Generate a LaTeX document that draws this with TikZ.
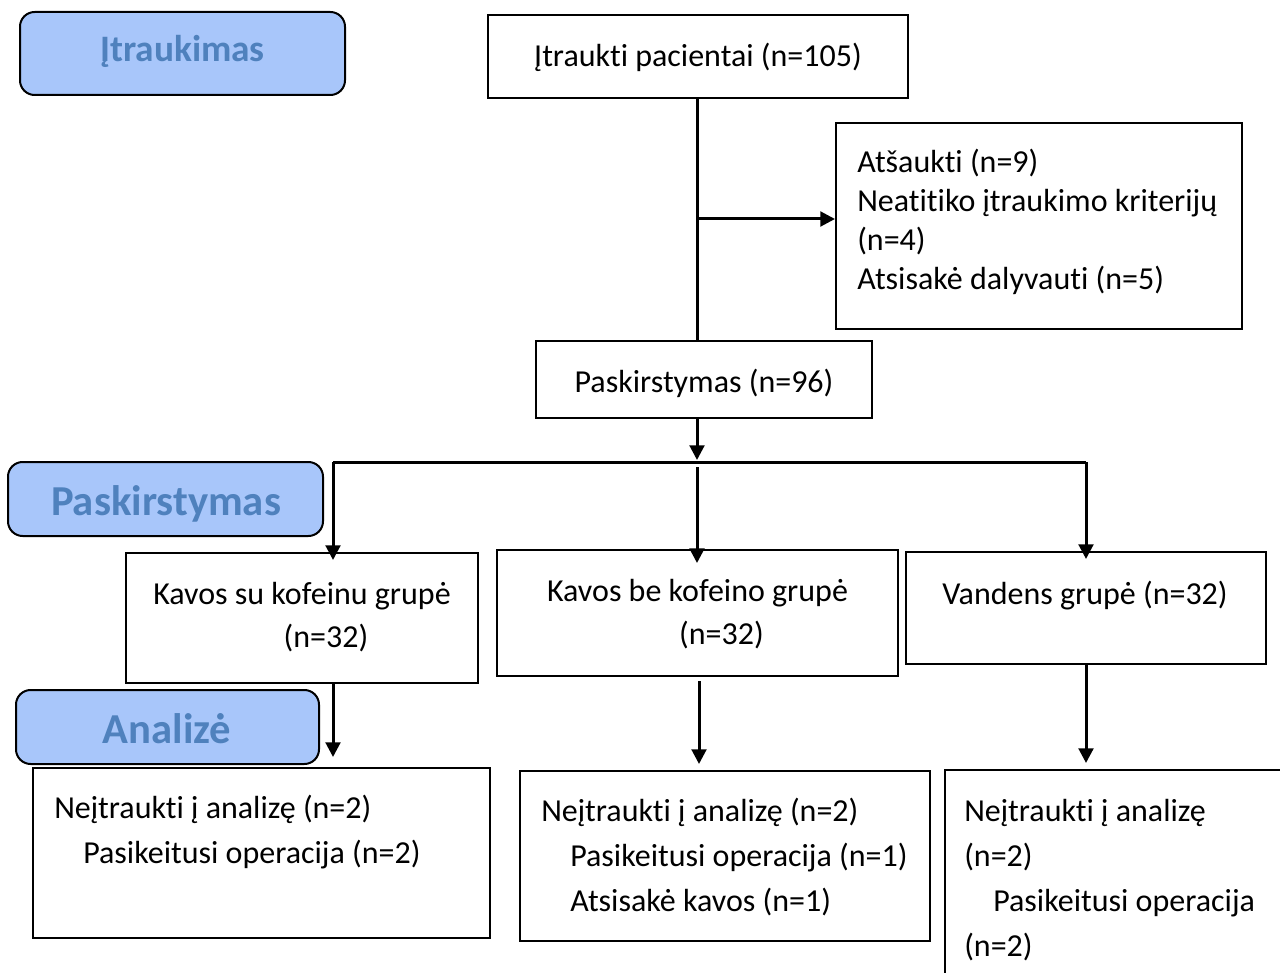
\documentclass[tikz,border=0pt]{standalone}
\usepackage{fontspec}
\setmainfont{Carlito}[Ligatures=NoCommon]
\usetikzlibrary{arrows.meta}
\definecolor{lblfill}{RGB}{168,198,250}
\definecolor{lbltext}{RGB}{79,129,189}
\tikzset{
  box/.style={draw=black, line width=1.5pt, fill=white, inner sep=0pt},
  lbl/.style={draw=black, line width=1.5pt, fill=lblfill, rounded corners=11pt, inner sep=0pt},
  lbltxt/.style={text=lbltext, font=\fontsize{32}{36}\selectfont\bfseries, inner sep=0pt, anchor=base},
  txt/.style={font=\fontsize{24}{29.25}\selectfont, inner sep=0pt, align=left},
  txtg/.style={font=\fontsize{24}{32.25}\selectfont, inner sep=0pt, align=center},
  txtb/.style={font=\fontsize{24}{33.75}\selectfont, inner sep=0pt, align=left},
  conn/.style={line width=2.25pt},
  arr/.style={line width=2.25pt, -{Triangle[width=11pt,length=11pt]}}
}
\begin{document}
\begin{tikzpicture}[x=0.75pt,y=-0.75pt]
\useasboundingbox (0,0) rectangle (1280,973);
\clip (0,0) rectangle (1280,973);
\fill[white] (0,0) rectangle (1280,973);
% phase labels
\node[lbl, minimum width=243.75pt, minimum height=62.25pt] (l1) at (182.5,53.5) {};
\node[lbltxt, font=\fontsize{28}{32}\selectfont\bfseries] (l1t) at (182.5,62) {Įtraukimas};
\node[lbl, minimum width=236.25pt, minimum height=55.5pt] (l2) at (165.5,499) {};
\node[lbltxt] (l2t) at (166,515) {Paskirstymas};
\node[lbl, minimum width=227.25pt, minimum height=55.5pt] (l3) at (167.5,727) {};
\node[lbltxt] (l3t) at (167,743) {Analizė};
% boxes
\node[box, minimum width=315pt, minimum height=62.25pt] (inc) at (698,56.5) {};
\node[txt, anchor=base] (inct) at (698,67) {Įtraukti pacientai (n=105)};
\node[box, minimum width=304.5pt, minimum height=154.5pt] (exc) at (1039,226) {};
\node[txt, anchor=base west] (exct) at (857,290) {Atšaukti (n=9)\\Neatitiko įtraukimo kriterijų\\(n=4)\\Atsisakė dalyvauti (n=5)};
\node[box, minimum width=252pt, minimum height=57.75pt] (pas) at (704,379.5) {};
\node[txt, anchor=base] (past) at (704,392) {Paskirstymas (n=96)};
\node[box, minimum width=264pt, minimum height=97.5pt] (g1) at (302,618) {};
\node[txtg, anchor=base] (g1t) at (302,647) {Kavos su kofeinu grupė\\\hspace*{36pt}(n=32)};
\node[box, minimum width=300.75pt, minimum height=94.5pt] (g2) at (697.5,613) {};
\node[txtg, anchor=base] (g2t) at (697.5,644) {Kavos be kofeino grupė\\\hspace*{36pt}(n=32)};
\node[box, minimum width=270pt, minimum height=84pt] (g3) at (1086,608) {};
\node[txt, anchor=base] (g3t) at (1085,604) {Vandens grupė (n=32)};
\node[box, minimum width=342.75pt, minimum height=127.5pt] (a1) at (261.5,853) {};
\node[txtb, anchor=base west] (a1t) at (54,863) {Neįtraukti į analizę (n=2)\\\hspace*{21.75pt}Pasikeitusi operacija (n=2)};
\node[box, minimum width=307.5pt, minimum height=127.5pt] (a2) at (725,856) {};
\node[txtb, anchor=base west] (a2t) at (541,911) {Neįtraukti į analizę (n=2)\\\hspace*{21.75pt}Pasikeitusi operacija (n=1)\\\hspace*{21.75pt}Atsisakė kavos (n=1)};
\node[box, minimum width=300pt, minimum height=240pt, anchor=north west] (a3) at (944,769) {};
\node[txtb, anchor=base west] (a3t) at (964,956) {Neįtraukti į analizę\\(n=2)\\\hspace*{21.75pt}Pasikeitusi operacija\\(n=2)};
% connectors
\coordinate (j1) at (697,219);
\coordinate (br) at (697,462);
\coordinate (brL) at (333,462);
\coordinate (brR) at (1086,462);
\draw[conn] (inc.south -| j1) -- (pas.north -| j1);
\draw[arr] (j1) -- (exc.west |- j1);
\draw[arr] (pas.south -| br) -- ([yshift=1.5pt]br);
\draw[conn] (brL) -- (brR);
\draw[arr] (brL) -- ([yshift=-6pt]g1.north -| brL);
\draw[arr] (brR) -- ([yshift=-6pt]g3.north -| brR);
\draw[arr] ([yshift=-3.75pt]br) -- ([yshift=-10.5pt]g2.north -| br);
\draw[arr] (g1.south -| brL) -- ([yshift=7.5pt]a1.north -| brL);
\draw[arr] ([yshift=-3pt]g2.south -| 699,0) -- ([yshift=4.5pt]a2.north -| 699,0);
\draw[arr] (g3.south -| brR) -- ([yshift=4.5pt]a3.north -| brR);
\end{tikzpicture}
\end{document}
